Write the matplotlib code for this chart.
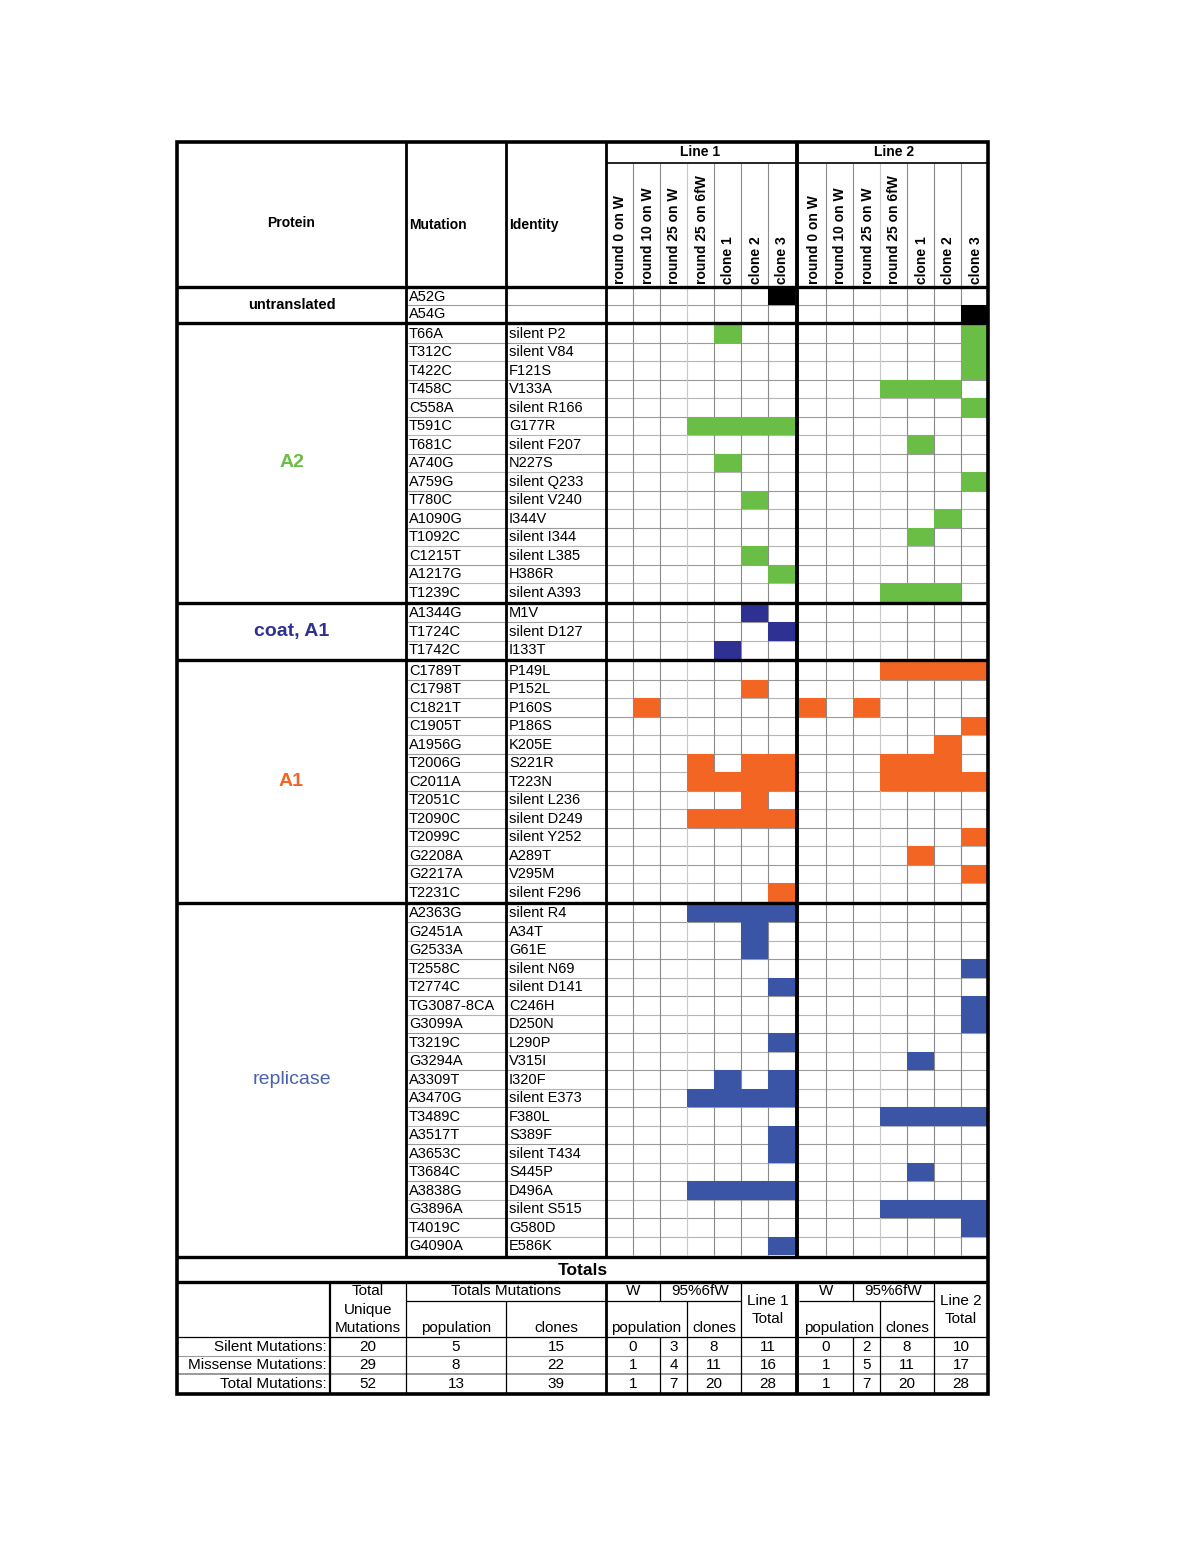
import matplotlib
matplotlib.use("Agg")
import matplotlib.pyplot as plt
from matplotlib.patches import Rectangle
from matplotlib import font_manager

# ---------------- data ----------------
protein_names = ["untranslated", "A2", "coat, A1", "A1", "replicase"]
protein_colors = ["#000000", "#6ABD45", "#2E3192", "#F26522", "#3A55A5"]
label_colors = ["#000000", "#6ABD45", "#2E3192", "#F26522", "#4B60AE"]
label_bold = [True, True, True, True, False]

untranslated_mut = ["A52G", "A54G"]
untranslated_id = ["", ""]
untranslated_l1 = [[6], []]
untranslated_l2 = [[], [6]]

a2_mut = ["T66A", "T312C", "T422C", "T458C", "C558A", "T591C", "T681C", "A740G",
          "A759G", "T780C", "A1090G", "T1092C", "C1215T", "A1217G", "T1239C"]
a2_id = ["silent P2", "silent V84", "F121S", "V133A", "silent R166", "G177R",
         "silent F207", "N227S", "silent Q233", "silent V240", "I344V",
         "silent I344", "silent L385", "H386R", "silent A393"]
a2_l1 = [[4], [], [], [], [], [3, 4, 5, 6], [], [4], [], [5], [], [], [5], [6], []]
a2_l2 = [[6], [6], [6], [3, 4, 5], [6], [], [4], [], [6], [], [5], [4], [], [], [3, 4, 5]]

coat_mut = ["A1344G", "T1724C", "T1742C"]
coat_id = ["M1V", "silent D127", "I133T"]
coat_l1 = [[5], [6], [4]]
coat_l2 = [[], [], []]

a1_mut = ["C1789T", "C1798T", "C1821T", "C1905T", "A1956G", "T2006G", "C2011A",
          "T2051C", "T2090C", "T2099C", "G2208A", "G2217A", "T2231C"]
a1_id = ["P149L", "P152L", "P160S", "P186S", "K205E", "S221R", "T223N",
         "silent L236", "silent D249", "silent Y252", "A289T", "V295M", "silent F296"]
a1_l1 = [[], [5], [1], [], [], [3, 5, 6], [3, 4, 5, 6], [5], [3, 4, 5, 6], [], [], [], [6]]
a1_l2 = [[3, 4, 5, 6], [], [0, 2], [6], [5], [3, 4, 5], [3, 4, 5, 6], [], [], [6], [4], [6], []]

rep_mut = ["A2363G", "G2451A", "G2533A", "T2558C", "T2774C", "TG3087-8CA", "G3099A",
           "T3219C", "G3294A", "A3309T", "A3470G", "T3489C", "A3517T", "A3653C",
           "T3684C", "A3838G", "G3896A", "T4019C", "G4090A"]
rep_id = ["silent R4", "A34T", "G61E", "silent N69", "silent D141", "C246H", "D250N",
          "L290P", "V315I", "I320F", "silent E373", "F380L", "S389F", "silent T434",
          "S445P", "D496A", "silent S515", "G580D", "E586K"]
rep_l1 = [[3, 4, 5, 6], [5], [5], [], [6], [], [], [6], [], [4, 6], [3, 4, 5, 6], [],
          [6], [6], [], [3, 4, 5, 6], [], [], [6]]
rep_l2 = [[], [], [], [6], [], [6], [6], [], [4], [], [], [3, 4, 5, 6], [], [], [4],
          [], [3, 4, 5, 6], [6], []]

sections = [
    (untranslated_mut, untranslated_id, untranslated_l1, untranslated_l2),
    (a2_mut, a2_id, a2_l1, a2_l2),
    (coat_mut, coat_id, coat_l1, coat_l2),
    (a1_mut, a1_id, a1_l1, a1_l2),
    (rep_mut, rep_id, rep_l1, rep_l2),
]

column_labels = ["round 0 on W", "round 10 on W", "round 25 on W", "round 25 on 6fW",
                 "clone 1", "clone 2", "clone 3"]
line_labels = ["Line 1", "Line 2"]

totals_rows = ["Silent Mutations:", "Missense Mutations:", "Total Mutations:"]
total_unique = [20, 29, 52]
total_population = [5, 8, 13]
total_clones = [15, 22, 39]
l1_w_population = [0, 1, 1]
l1_fw_population = [3, 4, 7]
l1_fw_clones = [8, 11, 20]
l1_total = [11, 16, 28]
l2_w_population = [0, 1, 1]
l2_fw_population = [2, 5, 7]
l2_fw_clones = [8, 11, 20]
l2_total = [10, 17, 28]

# ---------------- layout ----------------
installed = {f.name for f in font_manager.fontManager.ttflist}
MAIN = ["Liberation Sans", "DejaVu Sans"]
NARROW = (["Liberation Sans Narrow"] if "Liberation Sans Narrow" in installed else []) + MAIN

W_PX, H_PX = 1198, 1551
fig = plt.figure(figsize=(W_PX / 100, H_PX / 100), dpi=100)
ax = fig.add_axes([0, 0, 1, 1])
ax.set_xlim(0, W_PX)
ax.set_ylim(H_PX, 0)
ax.axis("off")

X0, X_MUT, X_ID, X_GRID, X1 = 177, 406, 506, 606, 988
CW = 27
L_START = [606, 799]
Y_TOP, Y_LINEROW, Y_HEAD = 142, 163, 287
SEC_START = 288
ROW_H = [17, 18.5, 18.5, 18.5, 18.5]
SEC_GAP = 2

THICK = 2.4
GRID_C = "#8a8a8a"

def hline(y, xa, xb, lw=0.8, c=GRID_C, z=2):
    ax.plot([xa, xb], [y, y], color=c, lw=lw, zorder=z, solid_capstyle="butt")

def vline(x, ya, yb, lw=0.8, c=GRID_C, z=2):
    ax.plot([x, x], [ya, yb], color=c, lw=lw, zorder=z, solid_capstyle="butt")

# header
ax.text((X0 + X_MUT) / 2, 223, "Protein", ha="center", va="center", fontsize=10,
        fontweight="bold", family=MAIN)
ax.text(X_MUT + 3, 225, "Mutation", ha="left", va="center", fontsize=10,
        fontweight="bold", family=MAIN)
ax.text(X_ID + 3, 225, "Identity", ha="left", va="center", fontsize=10,
        fontweight="bold", family=MAIN)
for li, xs in enumerate(L_START):
    ax.text(xs + 3.5 * CW, 152.5, line_labels[li], ha="center", va="center",
            fontsize=10, fontweight="bold", family=MAIN)
    hline(Y_LINEROW, xs, xs + 7 * CW, lw=1.2, c="black", z=4)
    for ci, lab in enumerate(column_labels):
        ax.text(xs + ci * CW + CW / 2 + 1, Y_HEAD - 3, lab, rotation=90, ha="center",
                va="bottom", fontsize=10, fontweight="bold", family=MAIN)
        if ci > 0:
            vline(xs + ci * CW, Y_LINEROW, Y_HEAD, c="#c8c8c8" if ci == 3 else GRID_C)

# body
y = SEC_START
sec_bounds = []
for si, (muts, ids, l1, l2) in enumerate(sections):
    h = ROW_H[si]
    ys = y
    for ri in range(len(muts)):
        yc = y + h / 2
        ax.text(X_MUT + 3, yc + 0.5, muts[ri], ha="left", va="center", fontsize=10.5,
                family=MAIN)
        ax.text(X_ID + 3, yc + 0.5, ids[ri], ha="left", va="center", fontsize=10.5,
                family=MAIN)
        for li, hits in enumerate((l1[ri], l2[ri])):
            for c in hits:
                ax.add_patch(Rectangle((L_START[li] + c * CW, y), CW, h,
                                       facecolor=protein_colors[si], edgecolor="none",
                                       zorder=3))
        if ri > 0:
            hline(y, X_MUT, X1, lw=0.8, c="#9a9a9a" if ri % 2 else "#b5b5b5")
        y += h
    ye = y
    sec_bounds.append((ys, ye))
    ax.text((X0 + X_MUT) / 2, (ys + ye) / 2, protein_names[si], ha="center",
            va="center", fontsize=10.5 if si == 0 else 14,
            fontweight="bold" if label_bold[si] else "normal",
            color=label_colors[si], family=MAIN)
    for xs in L_START:
        for ci in range(1, 7):
            vline(xs + ci * CW, ys, ye, c="#c8c8c8" if ci == 3 else GRID_C)
    y += SEC_GAP

BODY_END = sec_bounds[-1][1]

# thick section separators
hline(Y_HEAD, X0, X1, lw=THICK, c="black", z=5)
for si in range(len(sections) - 1):
    yy = (sec_bounds[si][1] + sec_bounds[si + 1][0]) / 2
    hline(yy, X0, X1, lw=THICK, c="black", z=5)
for xx in (X_MUT, X_ID, X_GRID):
    vline(xx, Y_TOP, BODY_END + 1, lw=2.0, c="black", z=5)
vline(797, Y_TOP, BODY_END + 1, lw=2.8, c="black", z=5)

# totals header
Y_TOT_TOP = BODY_END + 2
Y_T1 = 1282
hline(Y_TOT_TOP, X0, X1, lw=THICK, c="black", z=5)
ax.text((X0 + X1) / 2, (Y_TOT_TOP + Y_T1) / 2 + 1, "Totals", ha="center", va="center",
        fontsize=12.5, fontweight="bold", family=MAIN)
hline(Y_T1, X0, X1, lw=THICK, c="black", z=5)

# totals table
Y_T2, Y_T3 = 1301, 1337
DATA_H = 18.5
Y_END = 1394
X_LAB = 330
vline(X_LAB, Y_T1, Y_END, lw=1.6, c="black", z=5)
vline(X_MUT, Y_T1, Y_END, lw=0.9, c="black", z=5)
vline(X_ID, Y_T2, Y_END, lw=0.9, c="black", z=5)
vline(X_GRID, Y_T1, Y_END, lw=2.0, c="black", z=5)
vline(797, Y_T1, Y_END, lw=2.8, c="black", z=5)
for xs in L_START:
    vline(xs + 2 * CW, Y_T1, Y_T2, lw=0.9, c="black", z=5)
    vline(xs + 2 * CW, Y_T3, Y_END, lw=0.9, c="black", z=5)
    vline(xs + 3 * CW, Y_T2, Y_END, lw=0.9, c="black", z=5)
    vline(xs + 5 * CW, Y_T1, Y_END, lw=0.9, c="black", z=5)
    hline(Y_T2, xs, xs + 5 * CW, lw=0.9, c="black", z=5)
hline(Y_T2, X_MUT, X_GRID, lw=0.9, c="black", z=5)
hline(Y_T3, X0, X1, lw=0.9, c="black", z=5)
hline(Y_T3 + DATA_H, X0, X1, lw=0.8, c="#9a9a9a", z=4)
hline(Y_T3 + 2 * DATA_H, X0, X1, lw=1.4, c="#9a9a9a", z=4)

TFS = 11
def ttext(x, y_, s):
    ax.text(x, y_, s, ha="center", va="center", fontsize=TFS, family=NARROW)

ttext(368, 1291, "Total")
ttext(368, 1310, "Unique")
ttext(368, 1328, "Mutations")
ttext(506, 1291, "Totals Mutations")
ttext(456, 1328, "population")
ttext(556, 1328, "clones")
for li, xs in enumerate(L_START):
    ttext(xs + CW, 1291, "W")
    ttext(xs + 3.5 * CW, 1291, "95%6fW")
    ttext(xs + 1.5 * CW, 1328, "population")
    ttext(xs + 4 * CW, 1328, "clones")
    ttext(xs + 6 * CW, 1301, line_labels[li])
    ttext(xs + 6 * CW, 1319, "Total")

line_vals = [(l1_w_population, l1_fw_population, l1_fw_clones, l1_total),
             (l2_w_population, l2_fw_population, l2_fw_clones, l2_total)]
for ri, lab in enumerate(totals_rows):
    yc = Y_T3 + DATA_H * ri + DATA_H / 2 + 0.5
    ax.text(X_LAB - 3, yc, lab, ha="right", va="center", fontsize=TFS, family=NARROW)
    ttext(368, yc, str(total_unique[ri]))
    ttext(456, yc, str(total_population[ri]))
    ttext(556, yc, str(total_clones[ri]))
    for li, xs in enumerate(L_START):
        wp, fp, fc, tt = line_vals[li]
        ttext(xs + CW, yc, str(wp[ri]))
        ttext(xs + 2.5 * CW, yc, str(fp[ri]))
        ttext(xs + 4 * CW, yc, str(fc[ri]))
        ttext(xs + 6 * CW, yc, str(tt[ri]))

# outer border
ax.add_patch(Rectangle((X0, Y_TOP), X1 - X0, Y_END - Y_TOP, facecolor="none",
                       edgecolor="black", lw=2.6, zorder=6))

fig.savefig("out.png", dpi=100, facecolor="white")
